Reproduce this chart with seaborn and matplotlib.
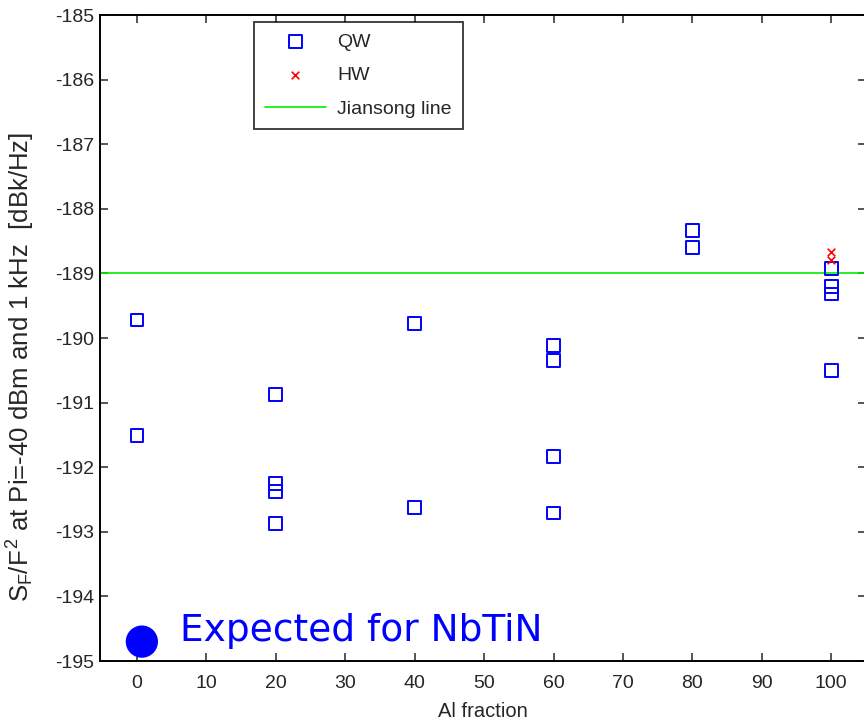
import numpy as np
import pandas as pd
import seaborn as sns
import matplotlib
matplotlib.use("Agg")
import matplotlib.pyplot as plt

# Noise measurements versus Al fraction
qw_al = [0, 0, 20, 20, 20, 20, 40, 40, 60, 60, 60, 60, 80, 80, 100, 100, 100, 100]
qw_noise = [-189.72, -191.51,
            -190.87, -192.25, -192.38, -192.87,
            -189.77, -192.63,
            -190.12, -190.35, -191.84, -192.71,
            -188.34, -188.60,
            -188.92, -189.20, -189.32, -190.50]
hw_al = [100, 100]
hw_noise = [-188.67, -188.80]
jiansong_level = -189.0
nbtin_al = [0.7]
nbtin_noise = [-194.7]
nbtin_label = "Expected for NbTiN"

xticks = list(range(0, 101, 10))
yticks = list(range(-195, -184, 1))

sns.set_theme(style="white")
plt.rcParams["font.family"] = ["Liberation Sans", "DejaVu Sans"]
plt.rcParams["mathtext.fontset"] = "custom"
plt.rcParams["mathtext.rm"] = "Liberation Sans"
plt.rcParams["mathtext.it"] = "Liberation Sans"
plt.rcParams["axes.unicode_minus"] = False

fig = plt.figure(figsize=(8.64, 7.22), dpi=100)
ax = fig.add_axes([100 / 864, 1 - 661 / 722, 766 / 864, 646 / 722])

qw = pd.DataFrame({"al": qw_al, "noise": qw_noise})
hw = pd.DataFrame({"al": hw_al, "noise": hw_noise})

sns.scatterplot(data=qw, x="al", y="noise", ax=ax, marker="s", s=85,
                facecolor="none", edgecolor="#0000ff", linewidth=1.4,
                label="QW", zorder=3)
sns.scatterplot(data=hw, x="al", y="noise", ax=ax, marker="x", s=30,
                color="#ff0000", linewidth=1.2, label="HW", zorder=4)
ax.axhline(jiansong_level, color="#00ee00", lw=1.2, label="Jiansong line", zorder=2)

sns.scatterplot(x=nbtin_al, y=nbtin_noise, ax=ax, marker="o", s=540,
                color="#0000ff", edgecolor="none", zorder=5)
ax.text(6.2, nbtin_noise[0] + 0.17, nbtin_label, color="#0000ff",
        fontsize=27, family="DejaVu Sans", va="center", ha="left")

ax.set_xlim(-5.33, 105)
ax.set_ylim(-195, -185)
ax.set_xticks(xticks)
ax.set_yticks(yticks)
ax.tick_params(direction="in", length=6, width=1.1, labelsize=14,
               top=True, right=True, bottom=True, left=True)
ax.tick_params(axis="x", pad=10)
ax.tick_params(axis="y", pad=4)
for s in ax.spines.values():
    s.set_visible(True)
    s.set_color("black")
    s.set_linewidth(1.4)

ax.set_xlabel("Al fraction", fontsize=14.5, labelpad=7)
ax.set_ylabel(r"$S_F/F^2$ at Pi=-40 dBm and 1 kHz  [dBk/Hz]", fontsize=18.5)
ax.yaxis.set_label_coords(-0.082, 0.455)

leg = ax.legend(loc="upper left", bbox_to_anchor=((254 - 100) / 766, 1 - 7 / 646),
                frameon=True, fancybox=False, edgecolor="black", fontsize=14,
                handlelength=3.1, borderpad=0.58, labelspacing=0.82,
                handletextpad=0.6, borderaxespad=0)
leg.get_frame().set_linewidth(1.3)

fig.savefig("out.png", dpi=100, facecolor="white")
